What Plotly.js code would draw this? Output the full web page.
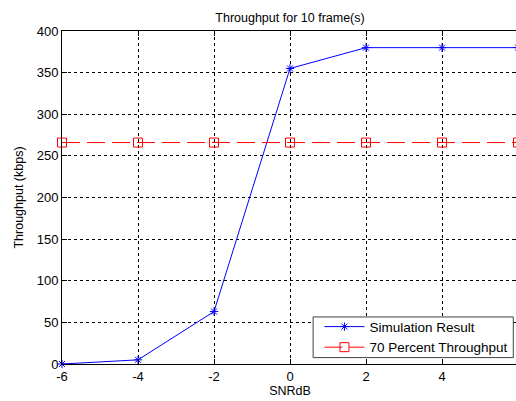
<!DOCTYPE html>
<html><head><meta charset="utf-8">
<script src="https://cdn.plot.ly/plotly-3.0.1.min.js"></script>
<style>html,body{margin:0;padding:0;overflow:hidden;background:#fff;width:516px;height:401px}#chart{width:520px;height:401px}</style>
</head><body><div id="chart"></div>
<script>
const snr = [-6, -4, -2, 0, 2, 4, 6];
const simThroughput = [0, 5, 63, 355, 380, 380, 380];
const target70 = [266, 266, 266, 266, 266, 266, 266];
const xTicks = [-6, -4, -2, 0, 2, 4, 6];
const yTicks = [0, 50, 100, 150, 200, 250, 300, 350, 400];

const fam = 'Arial, "Liberation Sans", sans-serif';
const tickFont = {family: fam, size: 13, color: '#000'};
const titleFont = {family: fam, size: 12.5, color: '#000'};
const legendFont = {family: fam, size: 13.5, color: '#000'};
const traces = [
  {x: snr, y: simThroughput, name: 'Simulation Result', type: 'scatter', mode: 'lines+markers',
   line: {color: '#0000ff', width: 1}, marker: {symbol: 'asterisk-open', size: 7, color: '#0000ff', line: {color: '#0000ff', width: 1}},
   cliponaxis: false},
  {x: snr, y: target70, name: '70 Percent Throughput', type: 'scatter', mode: 'lines+markers',
   line: {color: '#ff0000', width: 1, dash: '18px,7px'}, marker: {symbol: 'square-open', size: 9, color: '#ff0000', line: {color: '#ff0000', width: 1}},
   cliponaxis: false}
];
const axisCommon = {showline: true, linecolor: '#000', linewidth: 1, mirror: 'ticks', ticks: 'inside', ticklen: 5, tickcolor: '#000',
  showgrid: true, gridcolor: '#000', gridwidth: 1, griddash: '3px,3px', zeroline: false, tickfont: tickFont};
const layout = {
  width: 520, height: 401,
  margin: {l: 62, r: 2, t: 31, b: 37},
  paper_bgcolor: '#fff', plot_bgcolor: '#fff',
  font: tickFont,
  title: {text: 'Throughput for 10 frame(s)', font: titleFont, x: 0.5, xref: 'paper', y: 1, yref: 'paper', yanchor: 'bottom', pad: {b: 9}},
  xaxis: Object.assign({}, axisCommon, {range: [-6, 6], tickvals: xTicks, ticktext: xTicks.map(String),
    title: {text: 'SNRdB', font: titleFont, standoff: 3}}),
  yaxis: Object.assign({}, axisCommon, {range: [0, 400], tickvals: yTicks, ticktext: yTicks.map(String),
    title: {text: 'Throughput (kbps)', font: titleFont, standoff: 10}}),
  shapes: [{type: 'rect', xref: 'paper', yref: 'paper', x0: 0.5507, x1: 0.9897, y0: 0.0192, y1: 0.1413,
    fillcolor: '#fff', line: {color: '#404040', width: 1}, layer: 'above'}],
  legend: {x: 0.99, xanchor: 'right', y: 0.002, yanchor: 'bottom', bgcolor: 'rgba(0,0,0,0)', borderwidth: 0,
    font: legendFont, tracegroupgap: 0, itemwidth: 40},
  showlegend: true
};
Plotly.newPlot('chart', traces, layout, {displayModeBar: false, staticPlot: true});
</script></body></html>
